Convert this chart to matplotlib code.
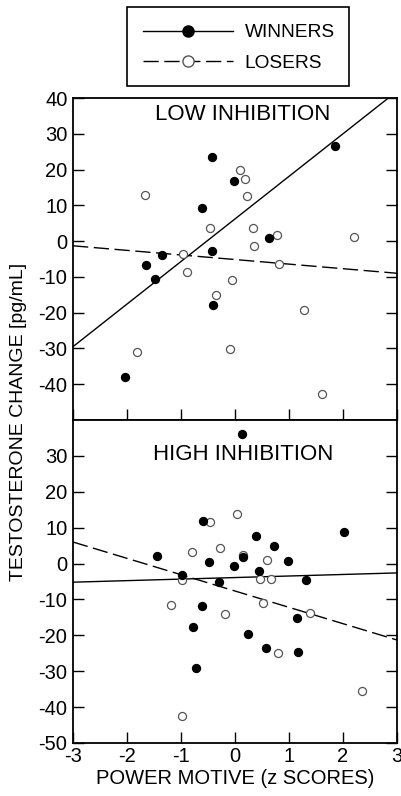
import matplotlib
matplotlib.use("Agg")
import matplotlib.pyplot as plt
from matplotlib.lines import Line2D
from matplotlib.patches import Rectangle
import numpy as np

plt.rcParams['font.family'] = ['Liberation Sans', 'DejaVu Sans']
plt.rcParams['axes.unicode_minus'] = False

# ---- data: LOW INHIBITION ----
low_win_x = [1.86, -0.42, -0.02, -0.62, 0.63, -0.43, -1.35, -1.65, -1.49, -0.41, -2.03]
low_win_y = [26.7, 23.6, 16.7, 9.3, 0.8, -2.9, -3.9, -6.7, -10.5, -17.8, -37.9]
low_los_x = [-1.66, 0.09, 0.18, 0.23, -0.47, 0.34, 0.78, 2.21, 0.36, -0.96, 0.81, -0.89,
             -0.06, -0.35, 1.27, -1.82, -0.10, 1.62]
low_los_y = [12.9, 20.0, 17.3, 12.5, 3.6, 3.6, 1.8, 1.2, -1.5, -3.5, -6.4, -8.6,
             -11.0, -15.2, -19.3, -31.1, -30.1, -42.6]
low_win_fit = [6.2, 11.9]     # intercept, slope
low_los_fit = [-5.15, -1.28]

# ---- data: HIGH INHIBITION ----
high_win_x = [0.13, -0.60, 0.38, 2.01, 0.73, -1.44, 0.15, -0.49, 0.99, -0.02, 0.44, -0.98,
              1.31, -0.30, -0.61, 1.14, -0.77, 0.25, 0.58, 1.17, -0.73]
high_win_y = [36.2, 11.8, 7.6, 8.7, 4.8, 2.1, 1.8, 0.4, 0.6, -0.8, -2.1, -3.1,
              -4.5, -5.2, -11.9, -15.2, -17.6, -19.5, -23.4, -24.6, -29.0]
high_los_x = [-0.47, 0.03, -0.80, -0.27, 0.15, 0.59, -0.99, 0.47, 0.67, -1.18, 0.51, -0.19,
              1.38, 0.80, 2.35, -0.99]
high_los_y = [11.6, 13.7, 3.2, 4.4, 2.5, 1.1, -4.6, -4.4, -4.4, -11.6, -10.9, -14.1,
              -13.7, -25.0, -35.6, -42.4]
high_win_fit = [-3.9, 0.43]
high_los_fit = [-7.65, -4.55]

xticks = [-3, -2, -1, 0, 1, 2, 3]
top_yticks = [-40, -30, -20, -10, 0, 10, 20, 30, 40]
bot_yticks = [-50, -40, -30, -20, -10, 0, 10, 20, 30]

W, H = 402, 796
fig = plt.figure(figsize=(W / 100, H / 100), dpi=100)
left, right = 73 / W, 397 / W
y_top, y_mid, y_bot = 1 - 98 / H, 1 - 420 / H, 1 - 743 / H
ax1 = fig.add_axes([left, y_mid, right - left, y_top - y_mid])
ax2 = fig.add_axes([left, y_bot, right - left, y_mid - y_bot])

DASH = (11, 4)
FS = 14.5
ms = 5.8
open_edge = '#555555'

def panel(ax, wx, wy, lx, ly, wfit, lfit, yticks, title, ty, show_x):
    xx = np.array([-3, 3])
    ax.plot(xx, wfit[0] + wfit[1] * xx, color='black', lw=1.0, zorder=2)
    ax.plot(xx, lfit[0] + lfit[1] * xx, color='black', lw=1.0, dashes=DASH, zorder=2)
    ax.plot(lx, ly, 'o', ms=ms, mfc='white', mec=open_edge, mew=0.9, ls='none', zorder=3)
    ax.plot(wx, wy, 'o', ms=ms, mfc='black', mec='black', mew=0.9, ls='none', zorder=4)
    ax.set_xlim(-3, 3)
    ax.set_ylim(-50, 40)
    ax.set_xticks(xticks)
    ax.set_yticks(yticks)
    ax.tick_params(direction='in', length=8, width=1.0, labelsize=FS, right=True,
                   top=False, pad=4)
    if not show_x:
        ax.tick_params(labelbottom=False)
    ax.tick_params(axis='y', labelright=False, pad=4)
    ax.tick_params(axis='x', pad=3)
    for s in ax.spines.values():
        s.set_linewidth(1.3)
    ax.text(0.15, ty, title, ha='center', va='center', fontsize=16)

panel(ax1, low_win_x, low_win_y, low_los_x, low_los_y, low_win_fit, low_los_fit,
      top_yticks, 'LOW INHIBITION', 35.5, False)
panel(ax2, high_win_x, high_win_y, high_los_x, high_los_y, high_win_fit, high_los_fit,
      bot_yticks, 'HIGH INHIBITION', 30.3, True)

ax2.set_xlabel('POWER MOTIVE (z SCORES)', fontsize=FS, labelpad=2)
fig.text(19 / W, 1 - 422 / H, 'TESTOSTERONE CHANGE [pg/mL]', rotation=90,
         ha='center', va='center', fontsize=14)

# legend
h_win = Line2D([], [], color='black', lw=1.0, marker='o', ms=8, mfc='black', mec='black')
h_los = Line2D([], [], color='black', lw=1.0, dashes=DASH, marker='o', ms=8, mfc='white',
               mec=open_edge, mew=1.0)
fig.patches.append(Rectangle((127 / W, 1 - 86 / H), (349 - 127) / W, (86 - 7) / H,
                             transform=fig.transFigure, fill=False, ec='black', lw=1.2))
fig.legend([h_win, h_los], ['WINNERS', 'LOSERS'], loc='center',
           bbox_to_anchor=(239 / W, 1 - 48 / H), frameon=False, fontsize=13.8,
           handlelength=4.7, handletextpad=0.6, labelspacing=0.7)

fig.savefig('out.png', dpi=100)
